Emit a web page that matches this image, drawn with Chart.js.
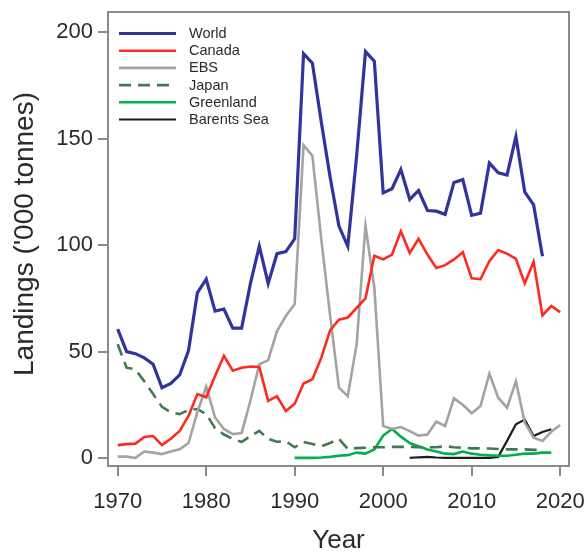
<!DOCTYPE html>
<html>
<head>
<meta charset="utf-8">
<script src="https://cdn.jsdelivr.net/npm/chart.js@4.4.1/dist/chart.umd.min.js"></script>
<style>
  html, body { margin: 0; padding: 0; background: #ffffff; }
  #wrap { width: 587px; height: 554px; }
</style>
</head>
<body>
<div id="wrap"><canvas id="chart" width="587" height="554"></canvas></div>
<script>
// Annual landings, thousand tonnes
const years = [1970, 1971, 1972, 1973, 1974, 1975, 1976, 1977, 1978, 1979,
               1980, 1981, 1982, 1983, 1984, 1985, 1986, 1987, 1988, 1989,
               1990, 1991, 1992, 1993, 1994, 1995, 1996, 1997, 1998, 1999,
               2000, 2001, 2002, 2003, 2004, 2005, 2006, 2007, 2008, 2009,
               2010, 2011, 2012, 2013, 2014, 2015, 2016, 2017, 2018, 2019, 2020];

const world = [60.5, 50, 49, 47, 44, 33, 35, 39, 50.5, 77.6,
               84, 69, 70, 61, 61, 82, 99.5, 82, 96, 97,
               103, 190, 185.5, 158, 132, 109, 99.5, 142, 191, 186.5,
               124.6, 126.5, 135.5, 121.5, 125.7, 116.3, 116, 114.5, 129.5, 130.8,
               114, 115, 138.6, 134, 133, 151, 125, 119, 94.8, null, null];

const canada = [6, 6.5, 6.7, 9.8, 10.3, 6, 9, 12.7, 19.7, 30,
                28.5, 38.5, 48, 41, 42.4, 43, 42.7, 26.8, 29, 22,
                25.5, 35, 37, 47, 60, 65, 66, 70.5, 75, 95,
                93.3, 95.6, 106.5, 96.4, 103, 95.6, 89.3, 90.6, 93.3, 96.7,
                84.4, 84, 92.5, 97.7, 96, 93.6, 82, 92.2, 67, 71.4, 68.5];

const ebs = [0.6, 0.6, 0, 3, 2.5, 1.8, 3, 4.1, 7, 21.5,
             33.5, 19, 13.6, 11.2, 11.7, 27, 44, 46, 59.6, 66.7,
             72.3, 147, 142, 103, 67, 33, 29, 53.5, 109, 80,
             15, 13.6, 14.5, 12.6, 10.5, 11, 17, 15, 28, 25,
             21, 24.4, 39.6, 28.3, 23.6, 36, 16.6, 9.5, 8, 12.3, 15.5];

const japan = [53.4, 42.4, 41.6, 36, 30, 24, 21.5, 20.6, 22.5, 23,
               20.6, 14, 11, 9, 7.5, 10.3, 12.7, 8.9, 7.6, 7.8,
               5, 7.5, 6.5, 5.5, 7, 9, 4.2, 4.6, 4.8, 5,
               5, 5.2, 5.2, 5.2, 5, 5, 5, 5.5, 5, 4.8,
               4.5, 4.5, 4.4, 4.2, 4, 4, 4, 3.8, 3.8, null, null];

const greenland = [null, null, null, null, null, null, null, null, null, null,
                   null, null, null, null, null, null, null, null, null, null,
                   0, 0, 0, 0.2, 0.5, 1, 1.3, 2.5, 2, 4,
                   10.5, 13.6, 10, 7, 5.5, 4, 3, 2, 1.8, 3,
                   2, 1.5, 1.2, 1, 1, 1.5, 2, 2, 2.5, 2.5, null];

const barents = [null, null, null, null, null, null, null, null, null, null,
                 null, null, null, null, null, null, null, null, null, null,
                 null, null, null, null, null, null, null, null, null, null,
                 null, null, null, 0, 0.3, 0.5, 0.2, 0, 0, 0,
                 0, 0, 0, 0.5, 8, 15.8, 18, 10.3, 12.2, 13.5, null];

const xTicks = [1970, 1980, 1990, 2000, 2010, 2020];
const yTicks = [0, 50, 100, 150, 200];
const yTitle = "Landings ('000 tonnes)";

const FONT = "'Liberation Sans', Arial, Helvetica, sans-serif";
const AXIS_GREY = '#8a8a8a';
const TEXT = '#2b2b2b';

function series(label, values, color, width, dash) {
  return {
    label: label,
    data: years.map((yr, i) => ({ x: yr, y: values[i] })),
    borderColor: color,
    backgroundColor: color,
    borderWidth: width,
    borderDash: dash || [],
    pointRadius: 0,
    pointHoverRadius: 0,
    tension: 0,
    spanGaps: false,
    fill: false
  };
}

const datasets = [
  series('World', world, '#33339c', 3.2),
  series('Canada', canada, '#ff2a1f', 2.6),
  series('EBS', ebs, '#a3a3a3', 2.6),
  series('Japan', japan, '#3f7a52', 2.6, [12, 7]),
  series('Greenland', greenland, '#00b04f', 2.6),
  series('Barents Sea', barents, '#1c1c1c', 2.2)
];

// Scales keep a fixed footprint; label overhang must not shrink the plot
function fixBox(prop, size) {
  return s => {
    s[prop] = size;
    s.paddingTop = 0; s.paddingBottom = 0; s.paddingLeft = 0; s.paddingRight = 0;
  };
}

// Frame round the plotting region, the vertical axis title and the key
const framePlugin = {
  id: 'frameAndKey',
  afterDatasetsDraw(chart) {
    const { ctx, chartArea: a } = chart;
    ctx.save();
    ctx.strokeStyle = AXIS_GREY;
    ctx.lineWidth = 2;
    ctx.strokeRect(a.left, a.top, a.right - a.left, a.bottom - a.top);

    // vertical axis title, set a little above the middle of the frame
    ctx.save();
    ctx.translate(25.5, (a.top + a.bottom) / 2 - 5);
    ctx.rotate(-Math.PI / 2);
    ctx.font = '28px ' + FONT;
    ctx.fillStyle = TEXT;
    ctx.textAlign = 'center';
    ctx.textBaseline = 'middle';
    ctx.fillText(yTitle, 0, 0);
    ctx.restore();

    const x0 = 119, x1 = 176, tx = 189, y0 = 33.5, step = 17.2;
    ctx.font = '14.5px ' + FONT;
    ctx.textBaseline = 'middle';
    ctx.textAlign = 'left';
    chart.data.datasets.forEach((ds, i) => {
      const y = y0 + i * step;
      ctx.beginPath();
      ctx.setLineDash(ds.borderDash || []);
      ctx.strokeStyle = ds.borderColor;
      ctx.lineWidth = ds.borderWidth;
      ctx.moveTo(x0, y);
      ctx.lineTo(x1, y);
      ctx.stroke();
      ctx.setLineDash([]);
      ctx.fillStyle = TEXT;
      ctx.fillText(ds.label, tx, y + 0.5);
    });
    ctx.restore();
  }
};

new Chart(document.getElementById('chart'), {
  type: 'line',
  data: { datasets: datasets },
  options: {
    responsive: false,
    animation: false,
    events: [],
    layout: { padding: { top: 12, right: 18, left: 0, bottom: 0 } },
    plugins: {
      legend: { display: false },
      tooltip: { enabled: false }
    },
    scales: {
      x: {
        type: 'linear',
        min: 1968.9,
        max: 2021,
        afterBuildTicks: s => { s.ticks = xTicks.map(v => ({ value: v })); },
        afterFit: fixBox('height', 88),
        grid: { drawOnChartArea: false, drawTicks: true, tickLength: 10, color: AXIS_GREY, lineWidth: 2 },
        border: { display: true, color: AXIS_GREY, width: 2 },
        ticks: {
          callback: v => String(v),
          maxRotation: 0,
          autoSkip: false,
          padding: 13,
          color: TEXT,
          font: { family: FONT, size: 22 }
        },
        title: {
          display: true,
          text: 'Year',
          color: TEXT,
          font: { family: FONT, size: 26 },
          padding: { top: 0, bottom: -2 }
        }
      },
      y: {
        type: 'linear',
        min: -3.8,
        max: 209.6,
        afterBuildTicks: s => { s.ticks = yTicks.map(v => ({ value: v })); },
        afterFit: fixBox('width', 108),
        grid: { drawOnChartArea: false, drawTicks: true, tickLength: 10, color: AXIS_GREY, lineWidth: 2 },
        border: { display: true, color: AXIS_GREY, width: 2 },
        ticks: {
          callback: v => String(v),
          autoSkip: false,
          padding: 5,
          color: TEXT,
          font: { family: FONT, size: 22 }
        },
        title: { display: false }
      }
    }
  },
  plugins: [framePlugin]
});
</script>
</body>
</html>
